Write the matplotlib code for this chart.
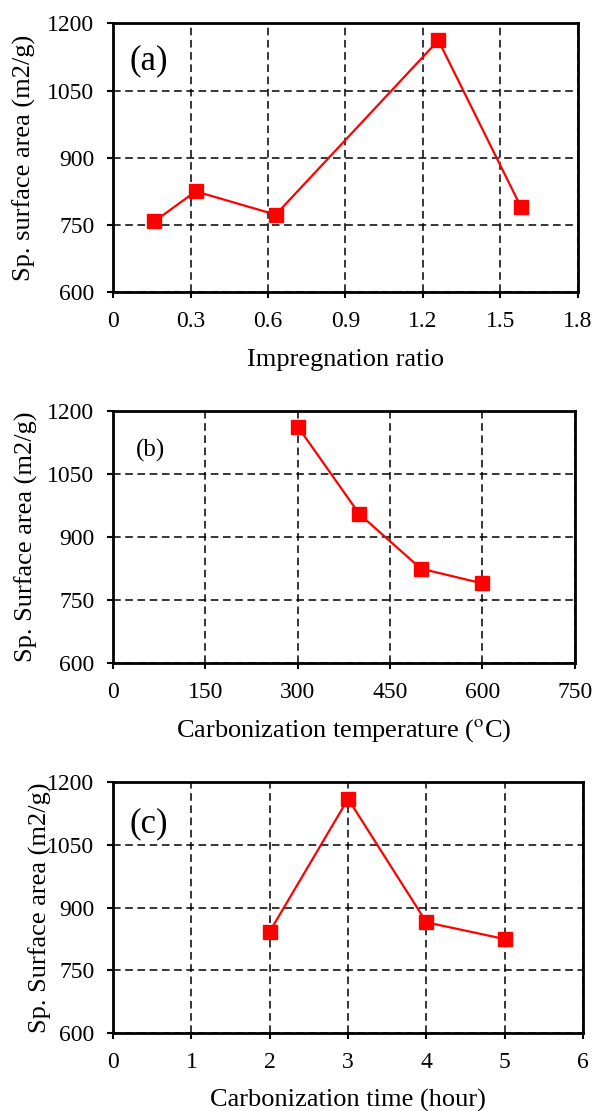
import matplotlib
matplotlib.use('Agg')
import matplotlib.pyplot as plt

# panel (a)
ratio = [0.16, 0.32, 0.63, 1.26, 1.58]
area_ratio = [758, 825, 773, 1162, 790]
# panel (b)
temp = [300, 400, 500, 600]
area_temp = [1163, 955, 825, 790]
# panel (c)
hours = [2, 3, 4, 5]
area_time = [843, 1160, 865, 825]

y_ticks = [600, 750, 900, 1050, 1200]

plt.rcParams['font.family'] = ['Liberation Serif', 'DejaVu Serif']
plt.rcParams['mathtext.fontset'] = 'stix'

fig = plt.figure(figsize=(5.92, 11.11), dpi=100)


def style(ax, xticks, xlabels, xlabel, ylabel, ylabel_x, xlabel_y):
    ax.set_ylim(600, 1200)
    ax.set_yticks(y_ticks)
    ax.set_xticks(xticks)
    ax.set_xticklabels(xlabels)
    ax.set_xlim(xticks[0], xticks[-1])
    ax.grid(True, color='black', linestyle=(0, (5, 3)), linewidth=1.1)
    ax.set_axisbelow(True)
    for s in ax.spines.values():
        s.set_linewidth(2)
    ax.tick_params(direction='out', length=4.5, width=1.5, labelsize=17, pad=9)
    ax.set_xlabel(xlabel, fontsize=19)
    ax.set_ylabel(ylabel, fontsize=19)
    ax.yaxis.set_label_coords(ylabel_x, 0.5)
    ax.xaxis.set_label_coords(0.5, xlabel_y)


kw = dict(color='#ff0000', marker='s', markersize=10.5, linewidth=1.6, clip_on=False, zorder=5)

ax1 = fig.add_axes([0.191, 0.737, 0.785, 0.242])
ax1.plot(ratio, area_ratio, **kw)
style(ax1, [0, 0.3, 0.6, 0.9, 1.2, 1.5, 1.8],
      ['0', '0.3', '0.6', '0.9', '1.2', '1.5', '1.8'],
      'Impregnation ratio', 'Sp. surface area (m2/g)', -0.166, -0.21)
ax1.text(0.035, 0.83, '(a)', transform=ax1.transAxes, fontsize=25)

ax2 = fig.add_axes([0.191, 0.403, 0.780, 0.227])
ax2.plot(temp, area_temp, **kw)
style(ax2, [0, 150, 300, 450, 600, 750],
      ['0', '150', '300', '450', '600', '750'],
      'Carbonization temperature ($^{\\mathrm{o}}$C)', 'Sp. Surface area (m2/g)', -0.163, -0.212)
ax2.text(0.05, 0.82, '(b)', transform=ax2.transAxes, fontsize=18)

ax3 = fig.add_axes([0.191, 0.070, 0.794, 0.226])
ax3.plot(hours, area_time, **kw)
style(ax3, [0, 1, 2, 3, 4, 5, 6],
      ['0', '1', '2', '3', '4', '5', '6'],
      'Carbonization time (hour)', 'Sp. Surface area (m2/g)', -0.13, -0.222)
ax3.text(0.035, 0.80, '(c)', transform=ax3.transAxes, fontsize=25)

fig.savefig('out.png', dpi=100)
